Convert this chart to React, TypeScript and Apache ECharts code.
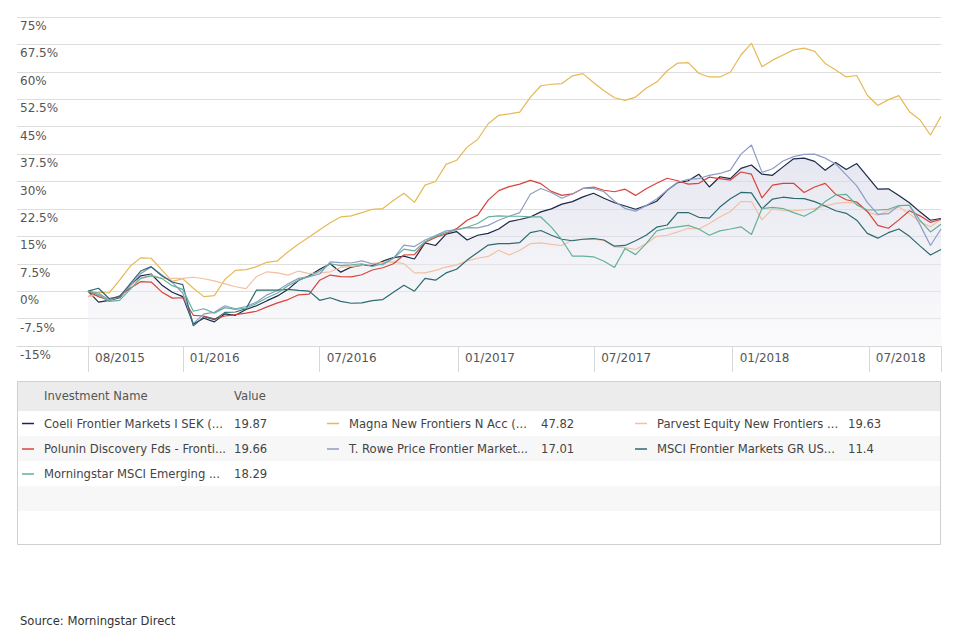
import React, { useEffect, useRef } from "react";
import * as echarts from "echarts";

// ---------- DATA ----------
const dates = [
  "2015-08-28", "2015-09-11", "2015-09-25", "2015-10-09", "2015-10-23", "2015-11-06", "2015-11-20", "2015-12-04", "2015-12-18",
  "2016-01-01", "2016-01-15", "2016-01-29", "2016-02-12", "2016-02-26", "2016-03-11", "2016-03-25", "2016-04-08", "2016-04-22",
  "2016-05-06", "2016-05-20", "2016-06-03", "2016-06-17", "2016-07-01", "2016-07-15", "2016-07-29", "2016-08-12", "2016-08-26",
  "2016-09-09", "2016-09-23", "2016-10-07", "2016-10-21", "2016-11-04", "2016-11-18", "2016-12-02", "2016-12-16", "2016-12-30",
  "2017-01-13", "2017-01-27", "2017-02-10", "2017-02-24", "2017-03-10", "2017-03-24", "2017-04-07", "2017-04-21", "2017-05-05",
  "2017-05-19", "2017-06-02", "2017-06-16", "2017-06-30", "2017-07-14", "2017-07-28", "2017-08-11", "2017-08-25", "2017-09-08",
  "2017-09-22", "2017-10-06", "2017-10-20", "2017-11-03", "2017-11-17", "2017-12-01", "2017-12-15", "2017-12-29",
  "2018-01-12", "2018-01-26", "2018-02-09", "2018-02-23", "2018-03-09", "2018-03-23", "2018-04-06", "2018-04-20", "2018-05-04",
  "2018-05-18", "2018-06-01", "2018-06-15", "2018-06-29", "2018-07-13", "2018-07-27", "2018-08-10", "2018-08-24", "2018-09-07",
  "2018-09-21", "2018-10-05",
];

const axisTickDates = ["2015-08-28", "2016-01-01", "2016-07-01", "2017-01-01", "2017-07-01", "2018-01-01", "2018-07-01", "2018-10-05"];
const axisLabelDates = ["2015-08-28", "2016-01-01", "2016-07-01", "2017-01-01", "2017-07-01", "2018-01-01", "2018-07-01"];

const coeli = [0, -3.0, -2.5, -1.8, 1.5, 4.2, 4.7, 1.7, -0.3, -1.5, -9.0, -7.4, -8.4, -6.2, -6.6, -5.0, -4.0, -2.6, -1.3, 0.5, 3.0, 4.2, 6.0, 7.5, 5.2, 6.6, 7.1, 7.0, 8.2, 9.2, 9.6, 8.8, 13.2, 12.5, 15.6, 16.3, 14.0, 15.3, 15.8, 17.0, 19.0, 19.6, 20.3, 21.7, 22.5, 23.8, 24.5, 25.8, 26.8, 25.4, 24.2, 23.3, 22.4, 23.4, 24.6, 27.6, 29.7, 30.2, 32.0, 28.5, 31.3, 30.8, 33.6, 34.5, 32.0, 31.7, 34.0, 36.2, 36.4, 35.5, 33.1, 35.2, 33.3, 34.9, 31.4, 27.9, 28.0, 26.2, 24.2, 21.7, 19.4, 19.87];
const magna = [-1.5, -0.3, -0.5, 3.0, 6.8, 9.1, 9.0, 5.8, 2.7, 3.4, 0.8, -1.5, -1.2, 3.2, 5.7, 5.9, 6.7, 7.9, 8.3, 10.8, 12.9, 14.8, 16.8, 18.7, 20.3, 20.6, 21.5, 22.4, 22.6, 24.8, 26.8, 24.3, 29.0, 30.0, 34.7, 35.8, 39.4, 41.5, 45.8, 48.1, 48.5, 49.0, 53.0, 56.2, 56.6, 56.8, 58.9, 59.5, 57.1, 54.8, 52.9, 52.2, 53.1, 55.5, 57.2, 60.3, 62.4, 62.5, 59.6, 58.6, 58.6, 59.9, 64.6, 67.8, 61.4, 63.2, 64.6, 66.0, 66.5, 65.6, 62.3, 60.5, 58.6, 59.0, 53.6, 50.8, 52.4, 53.5, 49.1, 46.9, 42.7, 47.82];
const parvest = [-1.5, -1.0, -2.0, -1.5, 1.5, 3.5, 4.5, 3.5, 3.5, 3.5, 3.8, 3.4, 2.8, 2.0, 1.2, 0.7, 4.0, 5.3, 5.0, 4.4, 5.5, 4.8, 5.0, 5.3, 6.5, 6.8, 7.0, 7.6, 7.8, 8.0, 7.5, 5.0, 5.0, 5.7, 6.6, 7.2, 8.3, 9.0, 9.5, 11.2, 9.9, 11.2, 13.0, 13.2, 12.8, 12.5, 14.0, 14.2, 14.3, 13.8, 12.1, 11.9, 11.4, 13.0, 15.0, 15.3, 16.2, 17.2, 17.0, 18.5, 20.3, 21.8, 24.5, 24.5, 19.5, 22.5, 22.0, 22.0, 22.2, 22.6, 23.3, 24.0, 24.3, 24.0, 21.7, 20.8, 22.0, 23.0, 21.2, 19.0, 17.6, 19.63];
const polunin = [0, -1.5, -2.5, -1.3, 0.8, 2.6, 2.5, -0.2, -1.9, -1.8, -6.6, -6.8, -7.6, -6.8, -6.4, -6.0, -5.5, -4.3, -3.2, -2.3, -1.0, -0.8, 3.0, 4.4, 4.0, 3.9, 4.5, 5.8, 6.4, 7.5, 9.9, 10.0, 13.3, 14.7, 15.7, 17.1, 19.4, 20.8, 24.9, 27.5, 28.6, 29.3, 30.3, 29.4, 27.3, 26.2, 26.6, 28.1, 28.5, 27.6, 27.2, 27.9, 26.2, 28.0, 29.5, 30.9, 30.2, 29.3, 29.5, 31.2, 30.8, 30.4, 32.6, 32.0, 25.5, 29.0, 29.5, 29.5, 27.0, 28.5, 29.5, 26.5, 25.0, 24.4, 21.8, 18.0, 17.2, 19.5, 22.0, 20.6, 18.8, 19.66];
const troweFrontier = [0, -0.5, -2.5, -1.6, 1.5, 4.8, 6.6, 4.5, 2.4, -0.5, -8.8, -6.2, -5.8, -4.0, -4.8, -4.2, -3.0, -1.0, 0.2, 2.0, 3.5, 4.0, 4.7, 8.0, 7.8, 7.7, 8.3, 7.5, 7.2, 9.0, 12.6, 12.2, 14.0, 15.2, 16.5, 16.8, 17.4, 17.3, 18.0, 19.4, 20.5, 21.5, 26.5, 28.1, 27.0, 25.4, 26.6, 28.1, 28.1, 27.2, 24.6, 22.6, 21.9, 23.4, 25.2, 27.6, 29.8, 30.6, 30.8, 31.7, 32.2, 33.1, 37.5, 40.0, 32.5, 33.5, 35.6, 36.8, 37.4, 37.5, 36.4, 34.8, 31.8, 28.8, 24.3, 21.0, 21.2, 23.4, 23.5, 18.2, 12.5, 17.01];
const msciFrontierGR = [0, 0.8, -2.0, -1.5, 2.0, 5.5, 6.7, 4.2, 2.5, 1.8, -9.5, -7.0, -7.8, -5.8, -5.7, -4.8, 0.3, 0.3, 0.3, 0.5, 0.2, 0.0, -2.5, -1.8, -2.8, -3.3, -3.2, -2.6, -2.3, -0.3, 1.6, 0.0, 3.5, 3.0, 5.0, 6.0, 8.5, 10.6, 12.6, 13.0, 13.0, 13.3, 16.0, 16.6, 15.3, 14.2, 13.8, 14.2, 14.4, 14.0, 12.3, 12.5, 13.8, 15.3, 17.5, 18.1, 21.5, 21.5, 20.2, 20.0, 23.0, 25.3, 27.0, 26.9, 22.5, 25.2, 25.7, 25.4, 25.3, 24.5, 23.3, 22.0, 21.3, 19.4, 15.8, 14.5, 16.0, 17.0, 15.0, 12.4, 9.9, 11.4];
const morningstarEM = [0, -1.0, -2.8, -2.5, 0.5, 3.5, 4.2, 3.5, 1.5, 0.5, -5.5, -4.8, -6.0, -4.5, -5.0, -4.6, -3.4, -1.8, -0.5, 1.5, 3.0, 4.0, 5.5, 7.5, 7.0, 7.2, 7.5, 6.8, 7.5, 9.0, 11.5, 11.0, 13.5, 15.0, 16.0, 16.8, 17.5, 18.5, 20.3, 20.6, 20.5, 20.5, 20.3, 20.3, 17.5, 14.0, 9.6, 9.6, 9.4, 8.2, 6.5, 11.7, 10.0, 13.0, 16.5, 17.2, 17.6, 18.0, 17.0, 15.3, 16.5, 17.0, 17.6, 15.5, 22.6, 22.9, 22.6, 21.5, 20.5, 22.0, 24.5, 26.3, 26.5, 23.6, 22.2, 22.2, 22.4, 23.4, 23.5, 19.4, 16.2, 18.29];

const seriesNames = [
  "Coeli Frontier Markets I SEK (...",
  "Magna New Frontiers N Acc (...",
  "Parvest Equity New Frontiers ...",
  "Polunin Discovery Fds - Fronti...",
  "T. Rowe Price Frontier Market...",
  "MSCI Frontier Markets GR US...",
  "Morningstar MSCI Emerging ...",
];
const seriesValues = [coeli, magna, parvest, polunin, troweFrontier, msciFrontierGR, morningstarEM];
const legendValues = ["19.87", "47.82", "19.63", "19.66", "17.01", "11.4", "18.29"];
const seriesColors = ["#1d2848", "#e6b955", "#f3c0a3", "#d8433b", "#8e9dc6", "#2c6a70", "#64b098"];

const yMin = -15;
const yMax = 75;
const yStep = 7.5;

// ---------- HELPERS ----------
const FONT = '"DejaVu Sans", Verdana, sans-serif';
const toTs = (s: string) => {
  const [y, m, d] = s.split("-").map(Number);
  return new Date(y, m - 1, d).getTime();
};

const startTs = toTs(dates[0]);
const endTs = toTs(dates[dates.length - 1]);
// plot begins at x=17, data begins at x=88, ends at x=941
const xMinTs = startTs - (endTs - startTs) * (71 / 853);

function buildOption() {
  const lineSeries: any[] = seriesNames.map((name, k) => ({
    type: "line",
    name,
    data: dates.map((d, i) => [toTs(d), seriesValues[k][i]]),
    showSymbol: false,
    symbol: "none",
    z: 3,
    lineStyle: { color: seriesColors[k], width: 1.2 },
    emphasis: { disabled: true },
  }));

  const areaSeries = {
    type: "line",
    name: "area",
    data: dates.map((d, i) => [toTs(d), coeli[i]]),
    showSymbol: false,
    symbol: "none",
    z: 1,
    lineStyle: { width: 0, opacity: 0 },
    areaStyle: {
      origin: "start",
      color: new echarts.graphic.LinearGradient(0, 0, 0, 1, [
        { offset: 0, color: "rgba(212,214,230,0.85)" },
        { offset: 1, color: "rgba(244,244,248,0.6)" },
      ]),
    },
    emphasis: { disabled: true },
  };

  // legend table
  const LF = 11.6;
  const colDash = [22, 327, 635];
  const colVal = [234, 541, 848];
  const rowY = [423.5, 449, 474];
  const graphics: any[] = [];
  graphics.push({ type: "rect", shape: { x: 17.5, y: 381.5, width: 923, height: 163 }, style: { fill: "#fff", stroke: "#cfcfcf", lineWidth: 1 }, silent: true });
  graphics.push({ type: "rect", shape: { x: 18, y: 382, width: 922, height: 29 }, style: { fill: "#ececec" }, silent: true });
  graphics.push({ type: "rect", shape: { x: 18, y: 436, width: 922, height: 25 }, style: { fill: "#f7f7f7" }, silent: true });
  graphics.push({ type: "rect", shape: { x: 18, y: 486, width: 922, height: 25 }, style: { fill: "#f7f7f7" }, silent: true });
  graphics.push({ type: "text", style: { text: "Investment Name", x: 44, y: 396, fill: "#555", fontSize: LF, fontFamily: FONT, verticalAlign: "middle" }, silent: true });
  graphics.push({ type: "text", style: { text: "Value", x: 234, y: 396, fill: "#555", fontSize: LF, fontFamily: FONT, verticalAlign: "middle" }, silent: true });
  seriesNames.forEach((name, k) => {
    const r = Math.floor(k / 3);
    const c = k % 3;
    const y = rowY[r];
    graphics.push({ type: "line", shape: { x1: colDash[c], y1: y, x2: colDash[c] + 12, y2: y }, style: { stroke: seriesColors[k], lineWidth: 1.5 }, silent: true });
    graphics.push({ type: "text", style: { text: name, x: colDash[c] + 22, y, fill: "#444", fontSize: LF, fontFamily: FONT, verticalAlign: "middle" }, silent: true });
    graphics.push({ type: "text", style: { text: legendValues[k], x: colVal[c], y, fill: "#444", fontSize: LF, fontFamily: FONT, verticalAlign: "middle" }, silent: true });
  });
  graphics.push({ type: "text", style: { text: "Source: Morningstar Direct", x: 20, y: 621, fill: "#333", fontSize: LF, fontFamily: FONT, verticalAlign: "middle" }, silent: true });

  return {
    animation: false,
    backgroundColor: "#ffffff",
    grid: { left: 17, right: 19, top: 17, bottom: 284, containLabel: false },
    xAxis: {
      type: "value",
      min: xMinTs,
      max: endTs,
      axisLine: { show: true, onZero: false, lineStyle: { color: "#d8d8d8", width: 1 } },
      axisTick: { show: true, length: 26, lineStyle: { color: "#d8d8d8" }, customValues: axisTickDates.map(toTs) },
      axisLabel: {
        customValues: axisLabelDates.map(toTs),
        formatter: (v: number) => {
          const d = new Date(v);
          const m = d.getMonth() + 1;
          return (m < 10 ? "0" + m : "" + m) + "/" + d.getFullYear();
        },
        align: "left",
        padding: [0, 0, 0, 7],
        margin: 6,
        color: "#555",
        fontSize: 12,
        fontFamily: FONT,
        showMinLabel: true,
        showMaxLabel: true,
        hideOverlap: false,
      },
      splitLine: { show: false },
    },
    yAxis: {
      type: "value",
      min: yMin,
      max: yMax,
      interval: yStep,
      axisLine: { show: false },
      axisTick: { show: false },
      axisLabel: {
        inside: true,
        margin: 3,
        align: "left",
        verticalAlign: "top",
        padding: [3, 0, 0, 0],
        formatter: (v: number) => `${v}%`,
        color: "#555",
        fontSize: 12,
        fontFamily: FONT,
      },
      splitLine: { show: true, lineStyle: { color: "#dedede", width: 1 } },
    },
    series: [areaSeries, ...lineSeries],
    graphic: graphics,
  };
}

export default function App() {
  const ref = useRef<HTMLDivElement>(null);
  useEffect(() => {
    if (!ref.current) return;
    const chart = echarts.init(ref.current, null, { renderer: "svg" });
    chart.setOption(buildOption() as any);
    return () => chart.dispose();
  }, []);
  return (
    <div
      ref={ref}
      style={{ position: "absolute", left: 0, top: 0, width: 960, height: 630, background: "#fff" }}
    />
  );
}
